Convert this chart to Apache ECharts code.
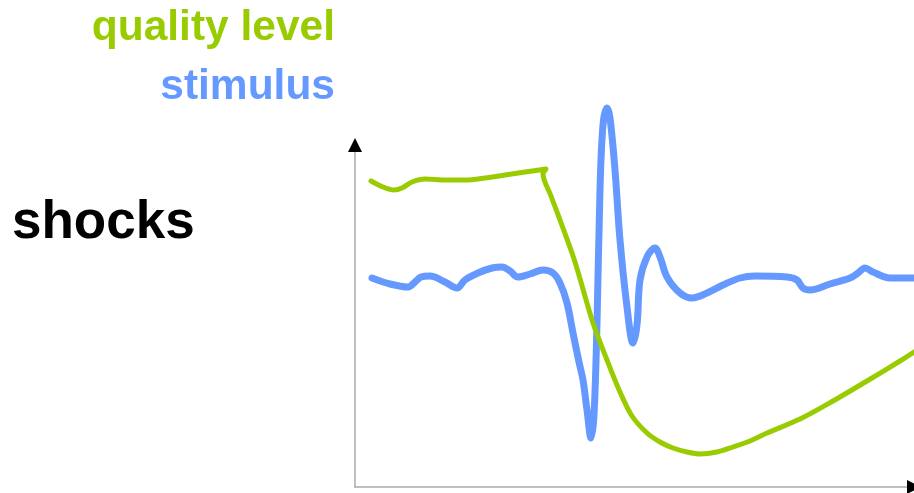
<!DOCTYPE html>
<html>
<head>
<meta charset="utf-8">
<script src="https://cdn.jsdelivr.net/npm/echarts@6/dist/echarts.min.js"></script>
<style>
  html, body { margin: 0; padding: 0; background: #fff; }
  #chart { width: 914px; height: 493px; }
</style>
</head>
<body>
<div id="chart"></div>
<script>
// 质量水平曲线 (x: 时间, y: 水平)
const qualityLevel = [
  [16, 306], [28, 300], [39, 297], [47, 299], [57, 305], [70, 308], [90, 307],
  [110, 307], [130, 309], [150, 312], [170, 315], [191, 318], [188, 313],
  [196, 291], [205, 267], [220, 225], [238, 164], [252, 127], [265, 95],
  [277, 71], [292, 54], [305, 45], [318, 39], [332, 35], [345, 33], [362, 35],
  [378, 40], [395, 46], [412, 54], [445, 68], [478, 86], [512, 106],
  [545, 126], [559, 135]
]

// 刺激曲线
const stimulus = [
  [17, 209], [35, 203], [53, 200], [60, 205], [66, 210], [75, 211], [90, 205],
  [102, 199], [110, 207], [123, 214], [137, 219], [147, 220], [155, 216],
  [163, 210], [175, 213], [188, 217], [198, 214], [205, 204], [212, 184],
  [218, 154], [224, 125], [228, 107], [232, 77], [236, 49], [239, 72],
  [242, 164], [245, 297], [248, 362], [252, 379], [255, 369], [260, 317],
  [265, 247], [272, 180], [278, 144], [282, 162], [285, 207], [292, 230],
  [300, 239], [305, 230], [312, 210], [325, 194], [337, 189], [352, 194],
  [368, 202], [385, 209], [400, 211], [432, 210], [442, 207], [448, 199],
  [455, 197], [475, 203], [495, 209], [503, 214], [510, 219], [518, 215],
  [535, 209], [559, 209]
]

const xMax = 559
const yMax = 342

const labels = ['quality level', 'stimulus', 'shocks']

const chart = echarts.init(document.getElementById('chart'))

const hidden = {
  axisTick: { show: false },
  axisLabel: { show: false },
  splitLine: { show: false }
}

const font = 'Liberation Sans, Arial, sans-serif'

const option = {
  animation: false,
  grid: { left: 355, right: 0, top: 145, bottom: 6 },
  title: [
    {
      text: labels[0], right: 579, top: 7, padding: 0,
      textStyle: { color: '#99cc00', fontSize: 42.5, lineHeight: 42.5, fontWeight: 'bold', fontFamily: font }
    },
    {
      text: labels[1], right: 579, top: 66, padding: 0,
      textStyle: { color: '#6699ff', fontSize: 42.5, lineHeight: 42.5, fontWeight: 'bold', fontFamily: font }
    },
    {
      text: labels[2], left: 12, top: 197, padding: 0,
      textStyle: { color: '#000', fontSize: 53, lineHeight: 53, fontWeight: 'bold', fontFamily: font }
    }
  ],
  xAxis: [
    {
      type: 'value', min: 0, max: xMax, position: 'bottom',
      axisLine: { show: true, lineStyle: { color: '#aaa', width: 1.5 } },
      ...hidden
    },
    {
      // 只用来画箭头
      type: 'value', min: 0, max: 1, position: 'bottom',
      axisLine: { show: true, symbol: ['none', 'triangle'], symbolSize: [14, 14], lineStyle: { color: '#000', opacity: 0 } },
      ...hidden
    }
  ],
  yAxis: [
    {
      type: 'value', min: 0, max: yMax, position: 'left',
      axisLine: { show: true, lineStyle: { color: '#aaa', width: 1.5 } },
      ...hidden
    },
    {
      type: 'value', min: 0, max: 1, position: 'left',
      axisLine: { show: true, symbol: ['none', 'triangle'], symbolSize: [14, 14], lineStyle: { color: '#000', opacity: 0 } },
      ...hidden
    }
  ],
  series: [
    {
      name: 'stimulus',
      type: 'line',
      data: stimulus,
      smooth: 0.35,
      clip: false,
      showSymbol: false,
      lineStyle: { color: '#6699ff', width: 7, cap: 'round', join: 'round' }
    },
    {
      name: 'quality level',
      type: 'line',
      data: qualityLevel,
      smooth: 0.3,
      clip: false,
      showSymbol: false,
      lineStyle: { color: '#99cc00', width: 5, cap: 'round', join: 'round' }
    }
  ]
}

chart.setOption(option)
</script>
</body>
</html>
